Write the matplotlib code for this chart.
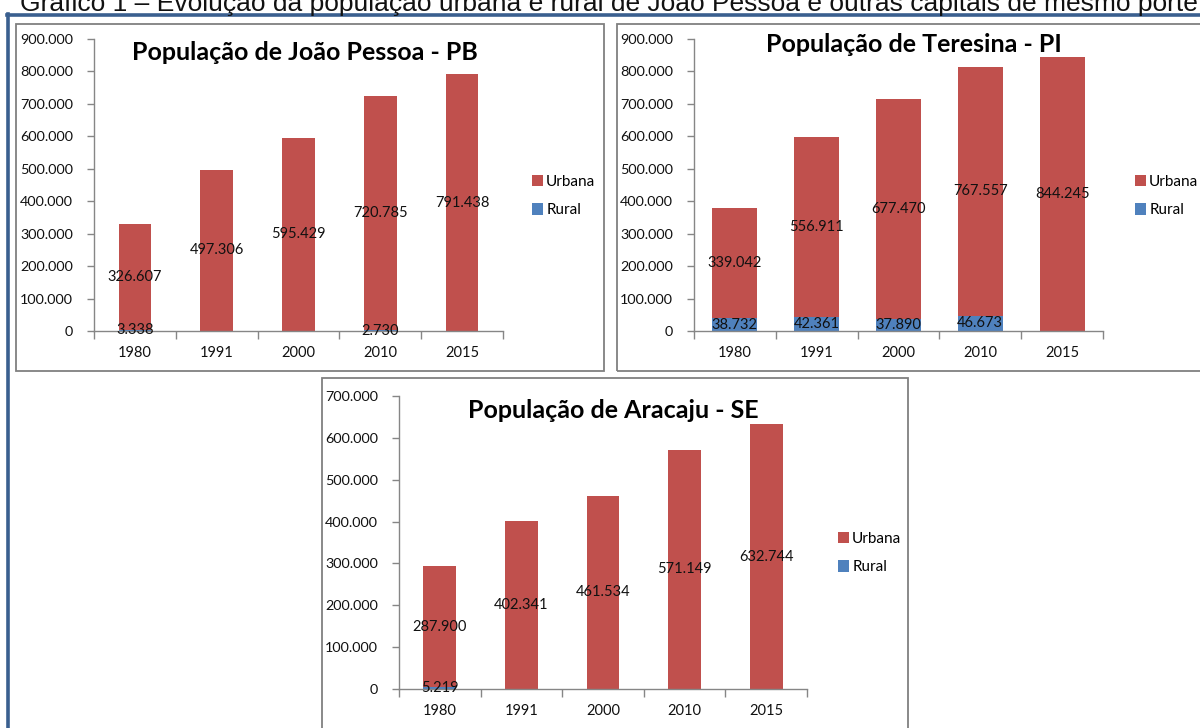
import numpy as np
import matplotlib
matplotlib.use("Agg")
import matplotlib.pyplot as plt
from matplotlib.patches import Rectangle
from matplotlib.lines import Line2D

# dados
anos = ["1980", "1991", "2000", "2010", "2015"]

jp_urbana = [326607, 497306, 595429, 720785, 791438]
jp_rural = [3338, None, None, 2730, None]

te_urbana = [339042, 556911, 677470, 767557, 844245]
te_rural = [38732, 42361, 37890, 46673, None]

aj_urbana = [287900, 402341, 461534, 571149, 632744]
aj_rural = [5219, None, None, None, None]

VERMELHO = "#C0504D"
AZUL = "#4F81BD"
CINZA = "#868686"
FONTE = ["Lato", "DejaVu Sans"]

W, H = 1200, 728
fig = plt.figure(figsize=(W / 100, H / 100), dpi=100)


def caixa(x0, y0, x1, y1):
    return [x0 / W, 1 - y1 / H, (x1 - x0) / W, (y1 - y0) / H]


def fmt(v):
    return "{:,}".format(v).replace(",", ".")


# legenda superior (cortada) e moldura azul
fig.text(20 / W, 1 - 11 / H,
         "Gráfico 1 – Evolução da população urbana e rural de João Pessoa e outras capitais de mesmo porte",
         ha="left", va="baseline", fontsize=19, family="Liberation Sans", color="#111111")
fig.add_artist(Line2D([7.5 / W, 7.5 / W], [0, 1 - 14 / H], color="#3A5F8F", lw=2.6,
                      transform=fig.transFigure))
fig.add_artist(Line2D([6.5 / W, 1], [1 - 14.5 / H, 1 - 14.5 / H], color="#3A5F8F", lw=2.6,
                      transform=fig.transFigure))

# molduras dos painéis
for x0, y0, x1, y1 in [(16, 24, 604, 371), (617, 24, 1205, 371), (322, 378, 908, 735)]:
    fig.add_artist(Rectangle((x0 / W, 1 - y1 / H), (x1 - x0) / W, (y1 - y0) / H,
                             transform=fig.transFigure, fill=False, ec="#808080", lw=1.3))


def painel(pos, urbana, rural, ymax, largura, titulo, tpos, legpos):
    ax = fig.add_axes(caixa(*pos))
    x = np.arange(len(anos))
    rur = np.array([r if r is not None else 0 for r in rural], dtype=float)
    urb = np.array(urbana, dtype=float)
    b_rur = ax.bar(x, rur, width=largura, color=AZUL, label="Rural")
    b_urb = ax.bar(x, urb, width=largura, bottom=rur, color=VERMELHO, label="Urbana")

    for i in range(len(anos)):
        ax.text(x[i], rur[i] + urb[i] / 2, fmt(urbana[i]), ha="center", va="center",
                fontsize=10.5, family=FONTE, color="#111111")
        if rural[i] is not None:
            ax.text(x[i], rur[i] / 2, fmt(rural[i]), ha="center", va="center",
                    fontsize=10.5, family=FONTE, color="#111111")

    ax.set_xlim(-0.5, len(anos) - 0.5)
    ax.set_ylim(0, ymax)
    ax.set_yticks(np.arange(0, ymax + 1, 100000))
    ax.set_yticklabels([fmt(int(v)) for v in np.arange(0, ymax + 1, 100000)],
                       family=FONTE, fontsize=10.4)
    ax.set_xticks(x)
    ax.set_xticklabels(anos, family=FONTE, fontsize=10.5)
    ax.set_xticks(np.arange(-0.5, len(anos)), minor=True)
    ax.tick_params(axis="x", which="major", length=0, pad=11, colors="#111111")
    ax.tick_params(axis="x", which="minor", length=6, color=CINZA, width=1)
    ax.tick_params(axis="y", length=5, color=CINZA, width=1, pad=10, labelcolor="#111111")
    for s in ["top", "right"]:
        ax.spines[s].set_visible(False)
    for s in ["left", "bottom"]:
        ax.spines[s].set_color(CINZA)
        ax.spines[s].set_linewidth(1)

    fig.text(tpos[0] / W, 1 - tpos[1] / H, titulo, ha="center", va="center",
             fontsize=18, fontweight="bold", family=FONTE, color="#000000")
    ax.legend([b_urb, b_rur], ["Urbana", "Rural"], loc="center left",
              bbox_to_anchor=(legpos[0] / W, 1 - legpos[1] / H), bbox_transform=fig.transFigure,
              frameon=False, handlelength=0.75, handleheight=0.75, handletextpad=0.2,
              labelspacing=0.95, prop={"family": FONTE, "size": 11}, borderpad=0)
    return ax


painel((94, 39, 503, 331), jp_urbana, jp_rural, 900000, 0.4,
       "População de João Pessoa - PB", (305, 52), (524, 196))
painel((694, 39, 1103, 331), te_urbana, te_rural, 900000, 0.55,
       "População de Teresina - PI", (914, 44), (1127, 196))
painel((399, 396, 807, 689), aj_urbana, aj_rural, 700000, 0.4,
       "População de Aracaju - SE", (613, 410), (830, 553))

fig.savefig("out.png", dpi=100)
